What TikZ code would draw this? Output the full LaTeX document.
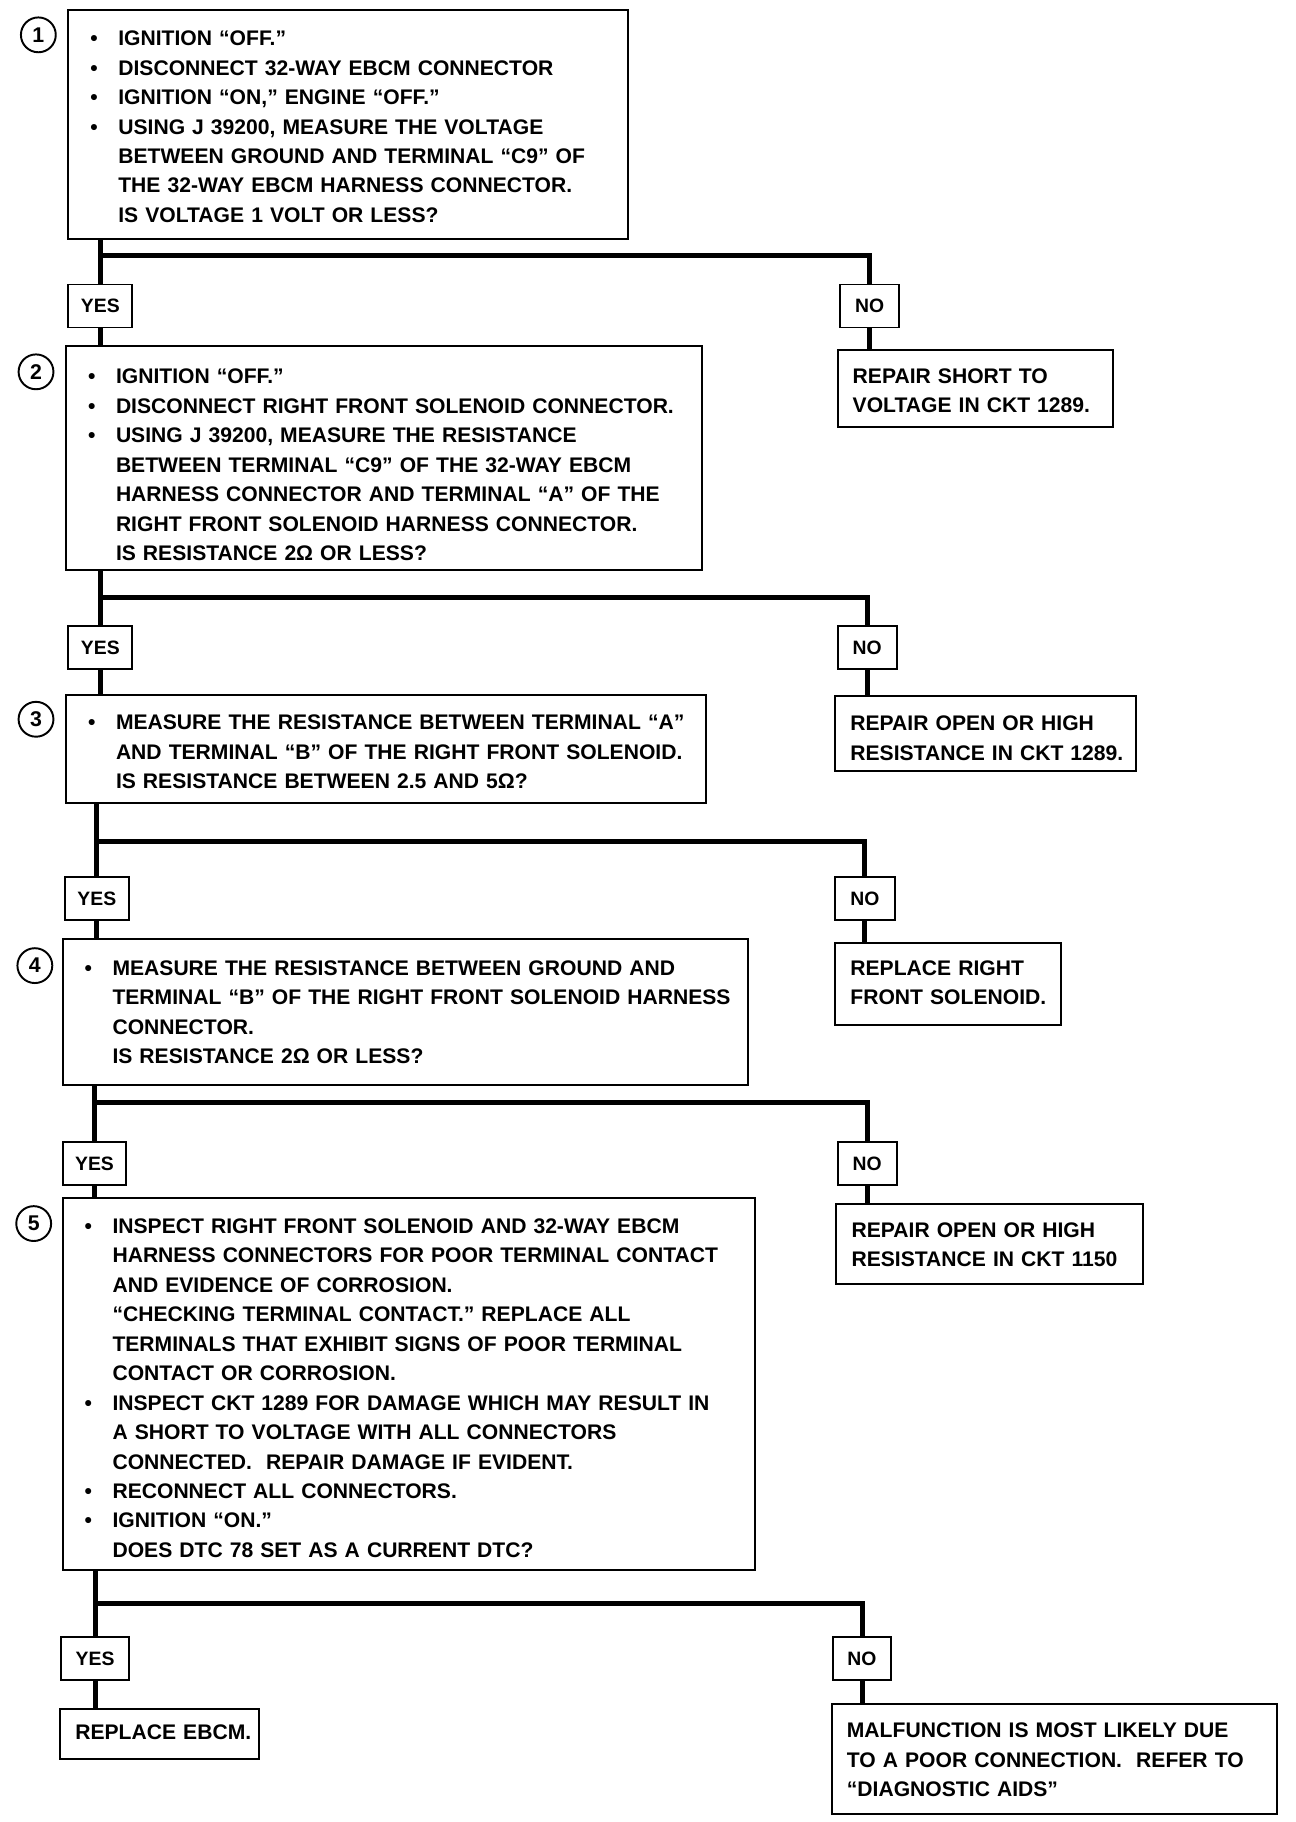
\documentclass[tikz,border=0pt]{standalone}
\usepackage{fontspec}
\setmainfont{Liberation Sans}
\newcommand\mybul{\makebox[14.4pt][l]{\textbullet}}
\newcommand\myind{\hspace*{14.4pt}}
\newcommand\mylines[2][0pt]{\begin{tabular}{@{}l@{}}\rule{0pt}{\dimexpr 10.64pt+#1\relax}#2\end{tabular}}
\tikzset{
  box/.style={draw, line width=1pt, anchor=north west, inner xsep=11.4pt, inner ysep=0pt,
    align=left, font=\bfseries\fontsize{10.9}{15.2}\selectfont},
  res/.style={draw, line width=1pt, anchor=north west, inner xsep=7.8pt, inner ysep=0pt,
    align=left, font=\bfseries\fontsize{10.9}{15.2}\selectfont},
  yn/.style={draw, line width=1pt, anchor=north west, minimum width=33pt, minimum height=22.2pt,
    inner sep=0pt, font=\bfseries\fontsize{10}{12}\selectfont},
  num/.style={circle, draw, line width=1pt, minimum size=18pt, inner sep=0pt,
    font=\bfseries\fontsize{11}{12}\selectfont},
  conn/.style={line width=2.6pt}
}
\begin{document}
\begin{tikzpicture}[x=0.6pt, y=-0.6pt]
\useasboundingbox (0,0) rectangle (1115,1568);

% step boxes
\node[box, text width=266.4pt, minimum height=118.2pt] (b1) at (58,8) {\mylines[3.6pt]{%
\mybul IGNITION “OFF.”\\
\mybul DISCONNECT 32-WAY EBCM CONNECTOR\\
\mybul IGNITION “ON,” ENGINE “OFF.”\\
\mybul USING J 39200, MEASURE THE VOLTAGE\\
\myind BETWEEN GROUND AND TERMINAL “C9” OF\\
\myind THE 32-WAY EBCM HARNESS CONNECTOR.\\
\myind IS VOLTAGE 1 VOLT OR LESS?}};

\node[box, text width=305.4pt, minimum height=115.8pt] (b2) at (56,297) {\mylines[8.4pt]{%
\mybul IGNITION “OFF.”\\
\mybul DISCONNECT RIGHT FRONT SOLENOID CONNECTOR.\\
\mybul USING J 39200, MEASURE THE RESISTANCE\\
\myind BETWEEN TERMINAL “C9” OF THE 32-WAY EBCM\\
\myind HARNESS CONNECTOR AND TERMINAL “A” OF THE\\
\myind RIGHT FRONT SOLENOID HARNESS CONNECTOR.\\
\myind IS RESISTANCE 2Ω OR LESS?}};

\node[box, text width=307.8pt, minimum height=55.8pt] (b3) at (56,597) {\mylines[4.8pt]{%
\mybul MEASURE THE RESISTANCE BETWEEN TERMINAL “A”\\
\myind AND TERMINAL “B” OF THE RIGHT FRONT SOLENOID.\\
\myind IS RESISTANCE BETWEEN 2.5 AND 5Ω?}};

\node[box, text width=331.2pt, minimum height=75.6pt] (b4) at (53,807) {\mylines[1.8pt]{%
\mybul MEASURE THE RESISTANCE BETWEEN GROUND AND\\
\myind TERMINAL “B” OF THE RIGHT FRONT SOLENOID HARNESS\\
\myind CONNECTOR.\\
\myind IS RESISTANCE 2Ω OR LESS?}};

\node[box, text width=334.8pt, minimum height=192pt] (b5) at (53,1030) {\mylines[6pt]{%
\mybul INSPECT RIGHT FRONT SOLENOID AND 32-WAY EBCM\\
\myind HARNESS CONNECTORS FOR POOR TERMINAL CONTACT\\
\myind AND EVIDENCE OF CORROSION.\\
\myind “CHECKING TERMINAL CONTACT.” REPLACE ALL\\
\myind TERMINALS THAT EXHIBIT SIGNS OF POOR TERMINAL\\
\myind CONTACT OR CORROSION.\\
\mybul INSPECT CKT 1289 FOR DAMAGE WHICH MAY RESULT IN\\
\myind A SHORT TO VOLTAGE WITH ALL CONNECTORS\\
\myind CONNECTED. \ REPAIR DAMAGE IF EVIDENT.\\
\mybul RECONNECT ALL CONNECTORS.\\
\mybul IGNITION “ON.”\\
\myind DOES DTC 78 SET AS A CURRENT DTC?}};

% step numbers
\node[num] (c1) at (33,30) {1};
\node[num] (c2) at (31,320) {2};
\node[num] (c3) at (31,619) {3};
\node[num] (c4) at (30,831) {4};
\node[num] (c5) at (29,1053) {5};

% yes / no boxes
\node[yn] (y1) at (58,244) {YES};
\node[yn] (y2) at (58,538) {YES};
\node[yn] (y3) at (55,754) {YES};
\node[yn] (y4) at (53,982) {YES};
\node[yn, minimum width=34.8pt] (y5) at (52,1408) {YES};
\node[yn, minimum width=30.6pt] (n1) at (722,244) {NO};
\node[yn, minimum width=30.6pt] (n2) at (720,538) {NO};
\node[yn, minimum width=30.6pt] (n3) at (718,754) {NO};
\node[yn, minimum width=30.6pt] (n4) at (720,982) {NO};
\node[yn, minimum width=30pt] (n5) at (716,1408) {NO};

% result boxes
\node[res, text width=126.6pt, minimum height=40.2pt] (r1) at (720,300) {\mylines[3.6pt]{REPAIR SHORT TO\\ VOLTAGE IN CKT 1289.}};
\node[res, text width=139.8pt, minimum height=39pt] (r2) at (718,598) {\mylines[6pt]{REPAIR OPEN OR HIGH\\ RESISTANCE IN CKT 1289.}};
\node[res, text width=100.8pt, minimum height=42pt] (r3) at (718,811) {\mylines{REPLACE RIGHT\\ FRONT SOLENOID.}};
\node[res, text width=142.8pt, minimum height=41.4pt] (r4) at (719,1035) {\mylines[2.4pt]{REPAIR OPEN OR HIGH\\ RESISTANCE IN CKT 1150}};
\node[res, text width=87pt, minimum height=25.8pt] (r5) at (51,1470) {\mylines{REPLACE EBCM.}};
\node[res, text width=214.2pt, minimum height=56.4pt] (r6) at (715,1466) {\mylines[2.4pt]{MALFUNCTION IS MOST LIKELY DUE\\ TO A POOR CONNECTION. \ REFER TO\\ “DIAGNOSTIC AIDS”}};

% junction points
\coordinate (j1) at (y1.north |- 0,220);
\coordinate (j2) at (y2.north |- 0,514);
\coordinate (j3) at (y3.north |- 0,724);
\coordinate (j4) at (y4.north |- 0,949);
\coordinate (j5) at (y5.north |- 0,1380);

% connectors
\draw[conn] (b1.south -| y1.north) -- (y1.north);
\draw[conn] (j1) -| (n1.north);
\draw[conn] (y1.south) -- (y1.south |- b2.north);
\draw[conn] (n1.south) -- (n1.south |- r1.north);

\draw[conn] (b2.south -| y2.north) -- (y2.north);
\draw[conn] (j2) -| (n2.north);
\draw[conn] (y2.south) -- (y2.south |- b3.north);
\draw[conn] (n2.south) -- (n2.south |- r2.north);

\draw[conn] (b3.south -| y3.north) -- (y3.north);
\draw[conn] (j3) -| (n3.north);
\draw[conn] (y3.south) -- (y3.south |- b4.north);
\draw[conn] (n3.south) -- (n3.south |- r3.north);

\draw[conn] (b4.south -| y4.north) -- (y4.north);
\draw[conn] (j4) -| (n4.north);
\draw[conn] (y4.south) -- (y4.south |- b5.north);
\draw[conn] (n4.south) -- (n4.south |- r4.north);

\draw[conn] (b5.south -| y5.north) -- (y5.north);
\draw[conn] (j5) -| (n5.north);
\draw[conn] (y5.south) -- (y5.south |- r5.north);
\draw[conn] (n5.south) -- (n5.south |- r6.north);
\end{tikzpicture}
\end{document}
